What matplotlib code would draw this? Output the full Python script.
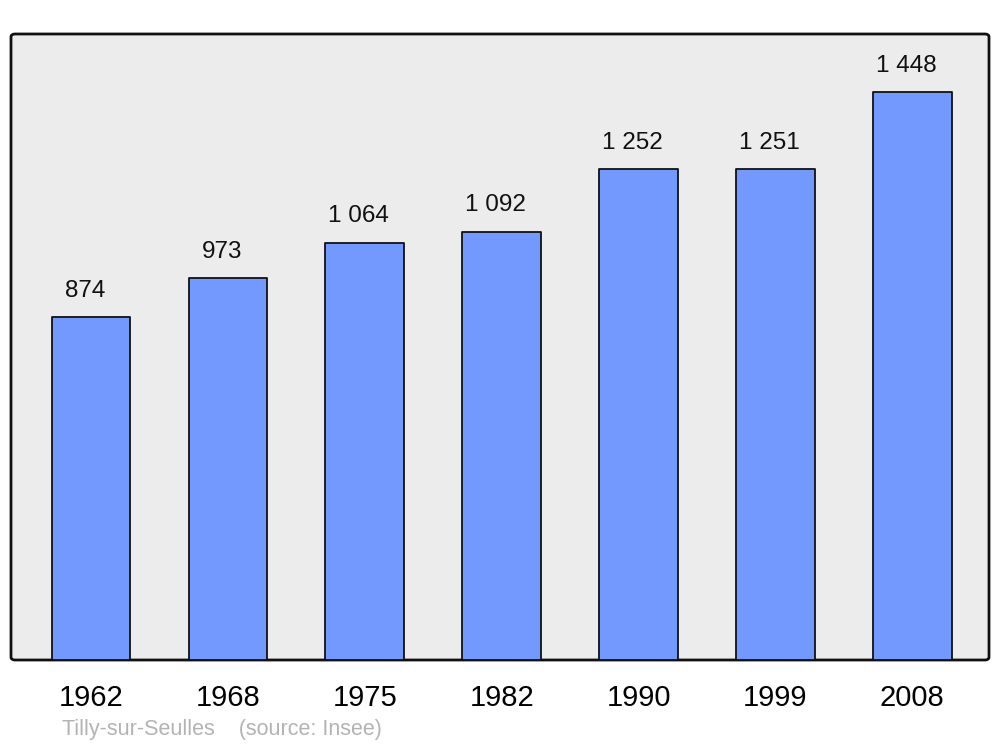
import matplotlib
matplotlib.use("Agg")
import matplotlib.pyplot as plt
from matplotlib.patches import FancyBboxPatch

years = ["1962", "1968", "1975", "1982", "1990", "1999", "2008"]
population = [874, 973, 1064, 1092, 1252, 1251, 1448]
value_labels = ["874", "973", "1 064", "1 092", "1 252", "1 251", "1 448"]
footer = "Tilly-sur-Seulles    (source: Insee)"

plt.rcParams['font.family'] = ['Liberation Sans', 'DejaVu Sans']

fig = plt.figure(figsize=(10, 7.47), dpi=100)
left, right, top, bottom = 11/1000, 989/1000, 1 - 34/747, 1 - 660/747
ax = fig.add_axes([left, bottom, right - left, top - bottom])
ax.set_facecolor('none')
ax.set_zorder(1)

frame = FancyBboxPatch((left, bottom), right - left, top - bottom,
                       boxstyle="round,pad=0,rounding_size=0.004",
                       transform=fig.transFigure, facecolor='#ececec',
                       edgecolor='#111111', linewidth=2.0, zorder=-1)
fig.patches.append(frame)

x = list(range(len(years)))
bars = ax.bar(x, population, width=0.575, color='#7399ff',
              edgecolor='#111111', linewidth=1.3, zorder=2)
for b in bars:
    b.set_joinstyle('round')

for xi, v, lab in zip(x, population, value_labels):
    ax.annotate(lab, (xi, v), xytext=(-4.5, 11), textcoords='offset points',
                ha='center', va='bottom', fontsize=17.5, color='#111111')

ax.set_xlim(-0.585, 6.56)
ax.set_ylim(0, 1596)
ax.set_xticks(x)
ax.set_xticklabels(years, fontsize=21)
ax.tick_params(axis='x', length=0, pad=17)
ax.set_yticks([])
for s in ax.spines.values():
    s.set_visible(False)

fig.text(62/1000, 1 - 730/747, footer, fontsize=15.5, color='#b3b3b3',
         ha='left', va='center')

fig.savefig('out.png', dpi=100)
